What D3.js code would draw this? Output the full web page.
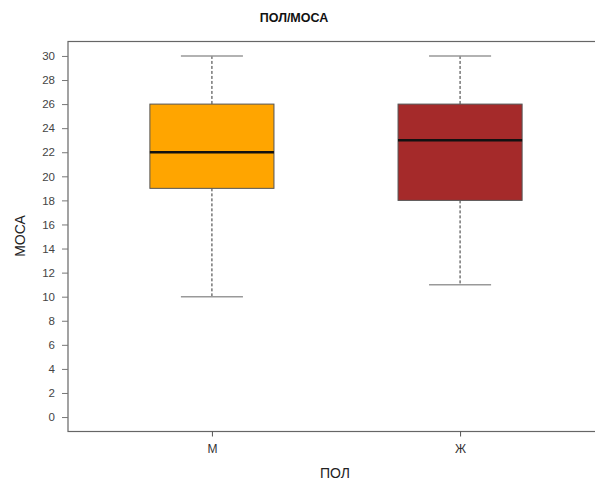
<!DOCTYPE html>
<html><head><meta charset="utf-8">
<script src="https://cdn.jsdelivr.net/npm/d3@7"></script>
<style>body{margin:0;background:#fff}svg{display:block}text{font-family:"Liberation Sans",Arial,sans-serif}</style>
</head><body><svg id="c" width="595" height="482"></svg>
<script>
const categories = ["М", "Ж"];
const mins = [10, 11];
const q1s = [19, 18];
const medians = [22, 23];
const q3s = [26, 26];
const maxs = [30, 30];
const colors = ["#FFA500", "#A52A2A"];
const yTicks = [0,2,4,6,8,10,12,14,16,18,20,22,24,26,28,30];

const svg = d3.select("#c");
const x = d3.scaleLinear().domain([0.42, 2.58]).range([68, 604]);
const y = d3.scaleLinear().domain([-1.2, 31.2]).range([431.5, 41.5]);
const boxHalf = 0.25, capHalf = 0.125;

// frame
svg.append("rect").attr("x", x(0.42)).attr("y", y(31.2))
  .attr("width", x(2.58)-x(0.42)).attr("height", y(-1.2)-y(31.2))
  .attr("fill","none").attr("stroke","#666").attr("stroke-width",1.2);

// y axis
const ya = svg.append("g").attr("transform", `translate(${x(0.42)},0)`)
  .call(d3.axisLeft(y).tickValues(yTicks).tickSize(6).tickPadding(7).tickFormat(d3.format("d")));
ya.select(".domain").remove();
ya.selectAll("line").attr("stroke","#777");
ya.selectAll("text").attr("font-size", 11.5).attr("fill","#444");

// x axis
const xa = svg.append("g").attr("transform", `translate(0,${y(-1.2)})`)
  .call(d3.axisBottom(x).tickValues([1,2]).tickSize(5).tickPadding(8).tickFormat((d,i)=>categories[i]));
xa.select(".domain").remove();
xa.selectAll("line").attr("stroke","#555");
xa.selectAll("text").attr("font-size", 12).attr("fill","#333");

categories.forEach((c,i)=>{
  const p = i+1;
  const g = svg.append("g");
  // whiskers
  g.append("line").attr("x1",x(p)).attr("x2",x(p)).attr("y1",y(maxs[i])).attr("y2",y(q3s[i]))
    .attr("stroke","#333").attr("stroke-dasharray","3,2");
  g.append("line").attr("x1",x(p)).attr("x2",x(p)).attr("y1",y(q1s[i])).attr("y2",y(mins[i]))
    .attr("stroke","#333").attr("stroke-dasharray","3,2");
  // caps
  [mins[i], maxs[i]].forEach(v=>{
    g.append("line").attr("x1",x(p-capHalf)).attr("x2",x(p+capHalf)).attr("y1",y(v)).attr("y2",y(v))
      .attr("stroke","#999").attr("stroke-width",1.5);
  });
  // box
  g.append("rect").attr("x",x(p-boxHalf)).attr("y",y(q3s[i]))
    .attr("width",x(p+boxHalf)-x(p-boxHalf)).attr("height",y(q1s[i])-y(q3s[i]))
    .attr("fill",colors[i]).attr("stroke","#555").attr("stroke-width",1);
  // median
  g.append("line").attr("x1",x(p-boxHalf)).attr("x2",x(p+boxHalf)).attr("y1",y(medians[i])).attr("y2",y(medians[i]))
    .attr("stroke","#111").attr("stroke-width",2.5);
});

// titles
svg.append("text").attr("x",294).attr("y",22).attr("text-anchor","middle")
  .attr("font-size",12.5).attr("font-weight","bold").attr("fill","#111").text("ПОЛ/МОСА");
svg.append("text").attr("x",335).attr("y",478).attr("text-anchor","middle")
  .attr("font-size",14).attr("fill","#222").text("ПОЛ");
svg.append("text").attr("transform","translate(25,236) rotate(-90)").attr("text-anchor","middle")
  .attr("font-size",14).attr("fill","#222").text("МОСА");
</script></body></html>
